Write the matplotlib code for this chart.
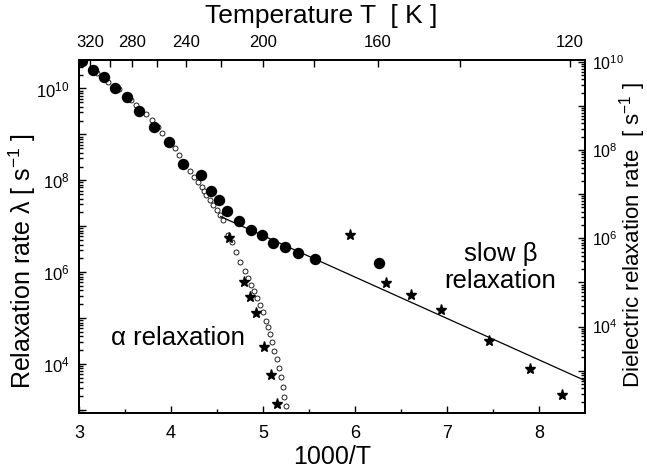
import numpy as np
import matplotlib
matplotlib.use("Agg")
import matplotlib.pyplot as plt
from matplotlib.ticker import FixedLocator, FuncFormatter, LogLocator, NullFormatter

plt.rcParams.update({
    "font.family": ["Liberation Sans", "DejaVu Sans"],
    "mathtext.fontset": "custom",
    "mathtext.rm": "Liberation Sans",
    "mathtext.it": "Liberation Sans:italic",
    "mathtext.bf": "Liberation Sans:bold",
    "axes.linewidth": 1.1,
})

# filled circles: relaxation rate (left axis), x = 1000/T, log10(rate)
beta_x = [3.03, 3.155, 3.27, 3.39, 3.52, 3.655, 3.81, 3.98, 4.13, 4.33, 4.43,
          4.525, 4.61, 4.74, 4.87, 4.99, 5.11, 5.24, 5.38, 5.56, 6.26]
beta_logy = [10.60, 10.41, 10.24, 10.01, 9.82, 9.51, 9.16, 8.84, 8.35, 8.11, 7.77,
             7.57, 7.34, 7.11, 6.92, 6.81, 6.64, 6.55, 6.42, 6.28, 6.21]

# open circles: alpha relaxation (left axis)
alpha_x = [3.20, 3.32, 3.44, 3.57, 3.62, 3.73, 3.79, 3.86, 3.90, 4.04, 4.09,
           4.21, 4.25, 4.29, 4.34, 4.36, 4.38, 4.42, 4.46, 4.50, 4.53, 4.57,
           4.62, 4.66, 4.71, 4.75, 4.80, 4.84, 4.87, 4.90, 4.94, 4.97, 5.00,
           5.03, 5.05, 5.08, 5.10, 5.12, 5.15, 5.17, 5.20, 5.22, 5.23, 5.25]
alpha_logy = [10.33, 10.14, 9.99, 9.75, 9.64, 9.44, 9.31, 9.16, 9.03, 8.70, 8.55,
              8.20, 8.07, 7.96, 7.85, 7.77, 7.68, 7.57, 7.46, 7.35, 7.24, 7.13,
              6.81, 6.65, 6.44, 6.22, 6.02, 5.87, 5.72, 5.59, 5.44, 5.28, 5.13,
              4.93, 4.80, 4.66, 4.48, 4.29, 4.11, 3.92, 3.72, 3.50, 3.29, 3.09]

# stars: dielectric relaxation rate (right axis)
diel_x = [4.63, 4.79, 4.86, 4.92, 5.01, 5.09, 5.15,
          5.95, 6.34, 6.61, 6.93, 7.46, 7.90, 8.25]
diel_logy = [6.00, 5.01, 4.66, 4.32, 3.53, 2.90, 2.25,
             6.08, 4.98, 4.72, 4.38, 3.68, 3.03, 2.45]

# Arrhenius fit of the slow beta process (left axis)
fit_x = [4.54, 8.5]
fit_logy = [7.21, 3.64]

temps = [320, 300, 280, 260, 240, 220, 200, 180, 160, 140, 120]
temp_labels = [320, 280, 240, 200, 160, 120]

fig = plt.figure(figsize=(6.47, 4.74), dpi=100)
ax = fig.add_axes([0.1221, 0.1293, 0.7821, 0.7441])

ax.plot(alpha_x, 10 ** np.array(alpha_logy), "o", ms=3.6, mfc="white", mec="black", mew=0.6)
ax.plot(fit_x, 10 ** np.array(fit_logy), "-", color="black", lw=0.9)
ax.plot(beta_x, 10 ** np.array(beta_logy), "o", ms=7.2, mfc="black", mec="black")

ax.set_xlim(3, 8.5)
ax.set_yscale("log")
ax.set_ylim(10 ** 2.94, 10 ** 10.62)
ax.set_xticks([3, 4, 5, 6, 7, 8])
ax.set_xticks([3.5, 4.5, 5.5, 6.5, 7.5], minor=True)


def even_decade(v, pos):
    e = int(round(np.log10(v)))
    return r"$10^{%d}$" % e if e % 2 == 0 else ""


ax.yaxis.set_major_locator(FixedLocator([10.0 ** e for e in range(3, 11)]))
ax.yaxis.set_major_formatter(FuncFormatter(even_decade))
ax.yaxis.set_minor_locator(LogLocator(base=10, subs=np.arange(2, 10), numticks=20))
ax.yaxis.set_minor_formatter(NullFormatter())
ax.tick_params(axis="both", which="both", direction="in", width=1.0)
ax.tick_params(axis="both", which="major", length=5)
ax.tick_params(axis="both", which="minor", length=3)
ax.tick_params(axis="x", labelsize=13, pad=9)
ax.tick_params(axis="y", labelsize=12, pad=7)
ax.set_xlabel("1000/T", fontsize=18, labelpad=2)

ax2 = ax.twinx()
ax2.plot(diel_x, 10 ** np.array(diel_logy), "*", ms=8, color="black")
ax2.set_yscale("log")
ax2.set_ylim(10 ** 2.05, 10 ** 10.04)
ax2.yaxis.set_major_locator(FixedLocator([10.0 ** e for e in range(3, 11)]))
ax2.yaxis.set_major_formatter(FuncFormatter(even_decade))
ax2.yaxis.set_minor_locator(LogLocator(base=10, subs=np.arange(2, 10), numticks=20))
ax2.yaxis.set_minor_formatter(NullFormatter())
ax2.tick_params(axis="y", which="both", direction="in", width=1.0, labelsize=11.5, pad=5)
ax2.tick_params(axis="y", which="major", length=5)
ax2.tick_params(axis="y", which="minor", length=3)

ax3 = ax.twiny()
ax3.set_xlim(3, 8.5)
ax3.set_xticks([1000.0 / t for t in temps])
ax3.set_xticklabels([str(t) if t in temp_labels else "" for t in temps])
ax3.tick_params(axis="x", direction="in", length=5, width=1.0, labelsize=12, pad=7)

fig.text(0.497, 0.966, "Temperature T  [ K ]", fontsize=19, ha="center", va="center")
fig.text(0.034, 0.449, r"Relaxation rate λ [ s$^{\mathregular{-1}}$ ]", fontsize=18,
         rotation=90, ha="center", va="center")
fig.text(0.977, 0.505, r"Dielectric relaxation rate  [ s$^{\mathregular{-1}}$ ]", fontsize=16,
         rotation=90, ha="center", va="center")

ax.text(3.35, 10 ** 4.57, "α relaxation", fontsize=18.5, ha="left", va="center")
ax.text(7.58, 10 ** 6.11, "slow β\nrelaxation", fontsize=18.5, ha="center", va="center",
        linespacing=1.15)

fig.savefig("out.png", dpi=100)
